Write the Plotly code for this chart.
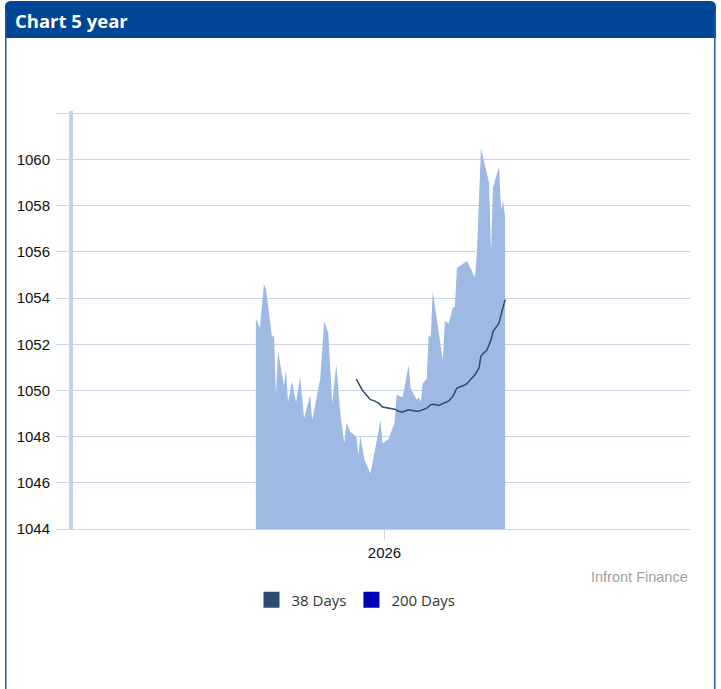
import plotly.graph_objects as go

# ---- data ----
price_dates = [
    "2025-10-29", "2025-10-31", "2025-11-02", "2025-11-03", "2025-11-06", "2025-11-07",
    "2025-11-08", "2025-11-09", "2025-11-12", "2025-11-13", "2025-11-14", "2025-11-16",
    "2025-11-18", "2025-11-20", "2025-11-22", "2025-11-25", "2025-11-26", "2025-11-30",
    "2025-12-02", "2025-12-04", "2025-12-06", "2025-12-08", "2025-12-10", "2025-12-12",
    "2025-12-13", "2025-12-15", "2025-12-18", "2025-12-19", "2025-12-20", "2025-12-22",
    "2025-12-23", "2025-12-25", "2025-12-30", "2025-12-31", "2026-01-03", "2026-01-05",
    "2026-01-06", "2026-01-07", "2026-01-10", "2026-01-13", "2026-01-14", "2026-01-17",
    "2026-01-18", "2026-01-19", "2026-01-20", "2026-01-22", "2026-01-23", "2026-01-24",
    "2026-01-25", "2026-01-30", "2026-01-31", "2026-02-02", "2026-02-04", "2026-02-05",
    "2026-02-06", "2026-02-11", "2026-02-15", "2026-02-16", "2026-02-18", "2026-02-22",
    "2026-02-23", "2026-02-24", "2026-02-27", "2026-02-28", "2026-03-01", "2026-03-02",
]
price_values = [
    1053.1, 1052.7, 1054.6, 1054.4, 1052.3, 1052.4,
    1049.8, 1051.7, 1050.2, 1050.9, 1049.5, 1050.4,
    1049.5, 1050.6, 1048.8, 1049.8, 1048.7, 1050.5,
    1053.0, 1052.5, 1049.4, 1051.15, 1049.0, 1047.7,
    1048.6, 1048.2, 1048.0, 1047.2, 1048.0, 1047.0,
    1046.8, 1046.4, 1048.7, 1047.7, 1047.9, 1048.4,
    1048.6, 1049.8, 1049.7, 1051.1, 1050.1, 1049.6,
    1049.7, 1049.5, 1050.3, 1050.5, 1052.4, 1052.3,
    1054.3, 1051.3, 1053.0, 1052.9, 1053.6, 1053.6,
    1055.3, 1055.6, 1054.9, 1056.0, 1060.5, 1059.0,
    1056.0, 1058.8, 1059.7, 1057.8, 1058.2, 1057.5,
]

ma38_dates = [
    "2025-12-18", "2025-12-21", "2025-12-23", "2025-12-25", "2025-12-27", "2025-12-29",
    "2025-12-31", "2026-01-03", "2026-01-06", "2026-01-08", "2026-01-10", "2026-01-13",
    "2026-01-17", "2026-01-19", "2026-01-22", "2026-01-24", "2026-01-26", "2026-01-28",
    "2026-01-31", "2026-02-02", "2026-02-04", "2026-02-06", "2026-02-09", "2026-02-11",
    "2026-02-13", "2026-02-15", "2026-02-17", "2026-02-18", "2026-02-21", "2026-02-23",
    "2026-02-24", "2026-02-27", "2026-02-28", "2026-03-02",
]
ma38_values = [
    1050.49, 1050.0, 1049.8, 1049.6, 1049.55, 1049.45,
    1049.28, 1049.23, 1049.19, 1049.1, 1049.07, 1049.16,
    1049.1, 1049.13, 1049.23, 1049.38, 1049.4, 1049.35,
    1049.48, 1049.55, 1049.74, 1050.1, 1050.2, 1050.29,
    1050.49, 1050.68, 1050.97, 1051.5, 1051.76, 1052.19,
    1052.55, 1052.92, 1053.28, 1053.93,
]

y_ticks = [1044, 1046, 1048, 1050, 1052, 1054, 1056, 1058, 1060, 1062]
y_tick_labels = ["1044", "1046", "1048", "1050", "1052", "1054", "1056", "1058", "1060", ""]
x_tick_dates = ["2026-01-01"]
x_tick_labels = ["2026"]
legend_names = ["38 Days", "200 Days"]
legend_colors = ["#2b4d70", "#0000b8"]

# ---- layout geometry (pixels) ----
W, H = 721, 689
L, R, T, B = 73, 690, 111, 529
GRID = "#c9d6e6"


def fx(px):
    return (px - L) / (R - L)


def fy(py):
    return (B - py) / (B - T)


fig = go.Figure()

fig.add_trace(go.Scatter(
    x=price_dates, y=price_values, mode="lines", fill="tozeroy",
    line=dict(width=0, color="#9db9e4"), fillcolor="#9db9e4",
    showlegend=False, hoverinfo="skip",
))
fig.add_trace(go.Scatter(
    x=ma38_dates, y=ma38_values, mode="lines",
    line=dict(width=1.5, color="#2b4d70"), showlegend=False,
))
for name, col in zip(legend_names, legend_colors):
    fig.add_trace(go.Scatter(
        x=[None], y=[None], mode="markers", name=name,
        marker=dict(symbol="square", size=16, color=col),
    ))

shapes = []
# header bar with rounded top corners
x0, x1, y0, y1, r = fx(5), fx(716), fy(1), fy(38), 6
rx, ry = r / (R - L), r / (B - T)
shapes.append(dict(
    type="path", xref="paper", yref="paper", layer="above",
    path=(f"M {x0},{y1} L {x0},{y0 - ry} Q {x0},{y0} {x0 + rx},{y0} "
          f"L {x1 - rx},{y0} Q {x1},{y0} {x1},{y0 - ry} L {x1},{y1} Z"),
    fillcolor="#004696", line=dict(width=0),
))
# card borders
for bx in (5.8, 714.8):
    shapes.append(dict(type="line", xref="paper", yref="paper",
                       x0=fx(bx), x1=fx(bx), y0=fy(10), y1=fy(H + 2),
                       line=dict(color="#1f58a8", width=1.5)))

fig.update_layout(
    width=W, height=H,
    margin=dict(l=L, r=W - R, t=T, b=H - B, pad=0),
    paper_bgcolor="white", plot_bgcolor="white",
    shapes=shapes,
    showlegend=True,
    legend=dict(orientation="h", x=fx(356), xanchor="center", y=fy(600), yanchor="middle",
                font=dict(family="Open Sans", size=15, color="#333333"),
                itemwidth=30, tracegroupgap=0, bgcolor="rgba(0,0,0,0)"),
    annotations=[
        dict(text="<b>Chart 5 year</b>", xref="paper", yref="paper",
             x=fx(13), y=fy(20), xanchor="left", yanchor="middle", showarrow=False,
             font=dict(family="Open Sans", size=18.5, color="white")),
        dict(text="Infront Finance", xref="paper", yref="paper",
             x=fx(690), y=fy(577), xanchor="right", yanchor="middle", showarrow=False,
             font=dict(family="Liberation Sans", size=14.5, color="#a0a0a0")),
    ],
    xaxis=dict(
        type="date", range=["2025-07-30", "2026-06-02"],
        tickmode="array", tickvals=x_tick_dates, ticktext=x_tick_labels,
        ticks="outside", ticklen=10, tickcolor=GRID, tickwidth=1,
        showgrid=False, zeroline=False,
        showline=True, linecolor=GRID, linewidth=1,
        tickfont=dict(family="Liberation Sans", size=15, color="#111111"),
        fixedrange=True,
    ),
    yaxis=dict(
        range=[1044, 1062.1],
        tickmode="array", tickvals=y_ticks, ticktext=y_tick_labels,
        ticks="outside", ticklen=13, tickcolor=GRID, tickwidth=1,
        showgrid=True, gridcolor=GRID, gridwidth=1,
        zeroline=False, showline=True, linecolor="#c3d3e5", linewidth=4,
        tickfont=dict(family="Liberation Sans", size=15, color="#111111"),
        ticklabelstandoff=3,
        fixedrange=True,
    ),
)

fig.write_html("out.html", config={"displayModeBar": False},
               post_script="document.body.style.margin='0';document.body.style.overflow='hidden';")
